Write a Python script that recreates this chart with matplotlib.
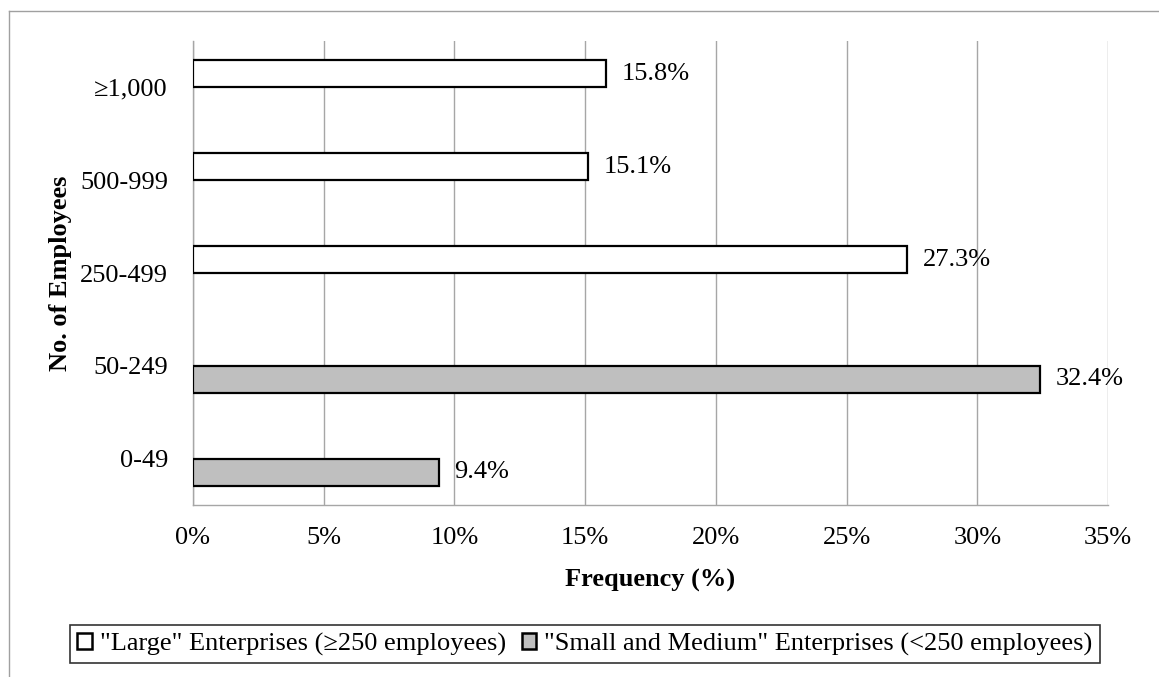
import numpy as np
import matplotlib
matplotlib.use("Agg")
import matplotlib.pyplot as plt
from matplotlib.lines import Line2D
from matplotlib.patches import Patch

plt.rcParams['font.family'] = ['Liberation Serif', 'DejaVu Serif']

categories = ["0-49", "50-249", "250-499", "500-999", "\u22651,000"]

# "Large" enterprises only have values for the top three groups
large_cats = ["250-499", "500-999", "\u22651,000"]
large_vals = [27.3, 15.1, 15.8]

small_cats = ["0-49", "50-249"]
small_vals = [9.4, 32.4]

x_ticks = [0, 5, 10, 15, 20, 25, 30, 35]

large_label = "\"Large\" Enterprises (\u2265250 employees)"
small_label = "\"Small and Medium\" Enterprises (<250 employees)"

FS = 19
W, H = 1159, 677
fig = plt.figure(figsize=(W / 100, H / 100), dpi=100)
ax = fig.add_axes([193 / W, 1 - 505 / H, (1108 - 193) / W, (505 - 41) / H])

bh = 0.29
off = 0.145
large_pos = np.array([categories.index(c) for c in large_cats]) + off
small_pos = np.array([categories.index(c) for c in small_cats]) - off

ax.barh(large_pos, large_vals, height=bh, color="white", edgecolor="black",
        linewidth=1.6, zorder=3)
ax.barh(small_pos, small_vals, height=bh, color="#bfbfbf", edgecolor="black",
        linewidth=1.6, zorder=3)

for p, v in zip(large_pos, large_vals):
    ax.text(v + 0.6, p, f"{v:.1f}%", va="center", ha="left", fontsize=FS, zorder=4)
for p, v in zip(small_pos, small_vals):
    ax.text(v + 0.6, p, f"{v:.1f}%", va="center", ha="left", fontsize=FS, zorder=4)

ax.set_xlim(0, 35)
ax.set_ylim(-0.5, len(categories) - 0.5)
ax.set_xticks(x_ticks)
ax.set_xticklabels([f"{t}%" for t in x_ticks], fontsize=FS)
ax.set_yticks(range(len(categories)))
ax.set_yticklabels(categories, fontsize=FS)
ax.tick_params(axis="both", length=0)
ax.tick_params(axis="x", pad=16)
ax.tick_params(axis="y", pad=18)

ax.grid(axis="x", color="#a6a6a6", linewidth=1.0, zorder=0)
for s in ["top", "right"]:
    ax.spines[s].set_visible(False)
for s in ["left", "bottom"]:
    ax.spines[s].set_color("#a6a6a6")
    ax.spines[s].set_linewidth(1.0)

ax.set_xlabel("Frequency (%)", fontsize=FS, fontweight="bold", labelpad=14)
ax.set_ylabel("No. of Employees", fontsize=FS, fontweight="bold", labelpad=6)

handles = [Patch(facecolor="white", edgecolor="black", linewidth=1.8, label=large_label),
           Patch(facecolor="#bfbfbf", edgecolor="black", linewidth=1.8, label=small_label)]
leg = fig.legend(handles=handles, loc="center", bbox_to_anchor=(585 / W, 1 - 644 / H),
                 ncol=2, fontsize=FS, frameon=True, fancybox=False,
                 handlelength=0.55, handleheight=0.55, handletextpad=0.3,
                 columnspacing=0.6, borderpad=0.3, borderaxespad=0)
leg.get_frame().set_edgecolor("black")
leg.get_frame().set_linewidth(1.2)

# outer chart frame (only top and left visible in the crop)
fig.add_artist(Line2D([9 / W, 9 / W], [0, 1 - 11 / H], color="#a0a0a0", linewidth=1.0))
fig.add_artist(Line2D([9 / W, 1], [1 - 11 / H, 1 - 11 / H], color="#a0a0a0", linewidth=1.0))

fig.savefig("out.png", dpi=100)
